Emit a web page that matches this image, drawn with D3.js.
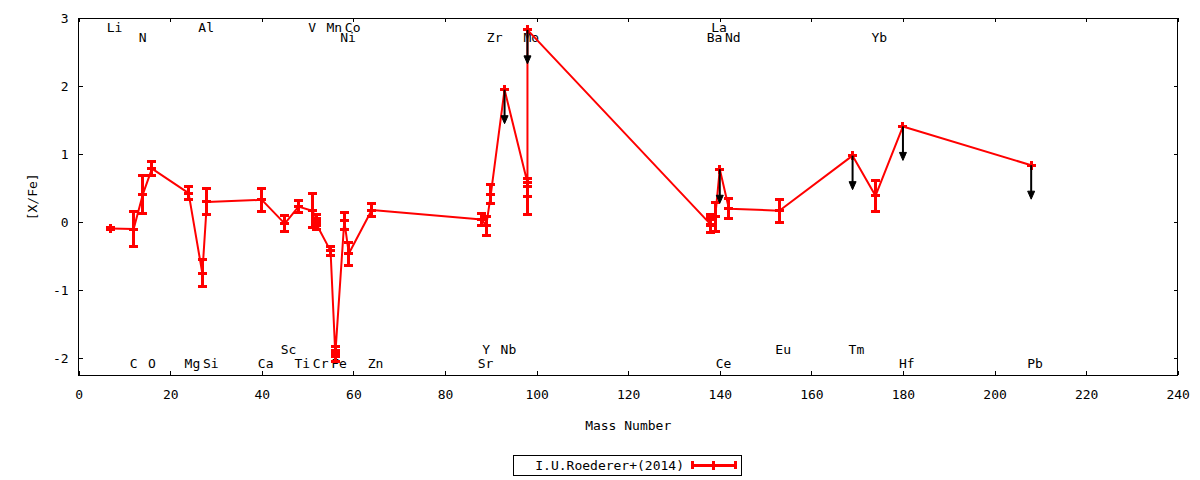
<!DOCTYPE html>
<html>
<head>
<meta charset="utf-8">
<script src="https://cdn.jsdelivr.net/npm/d3@7"></script>
<style>
  html, body { margin: 0; padding: 0; background: #fff; }
  svg { display: block; }
  text { font-family: "DejaVu Sans Mono", "Liberation Mono", monospace; font-size: 13px; fill: #000; }
</style>
</head>
<body>
<svg id="chart" width="1200" height="480"></svg>
<script>
// ---- data ----
const elements   = ["Li","C","N","O","Mg","Al","Si","Ca","Sc","Ti","V","Cr","Cr","Mn","Fe","Fe","Ni","Co","Zn","Sr","Y","Zr","Nb","Mo","Mo","Mo","Ba","Ba","La","Ce","Nd","Eu","Tm","Yb","Hf","Pb"];
const massNumber = [7,12,14,16,24,27,28,40,45,48,51,52,52,55,56,56,58,59,64,88,89,90,93,98,98,98,138,138,139,140,142,153,169,174,180,208];
const xfe        = [-0.09,-0.10,0.41,0.79,0.43,-0.75,0.30,0.33,-0.02,0.23,0.17,0.05,-0.04,-0.42,-1.89,-1.98,0.02,-0.46,0.18,0.04,-0.05,0.41,1.95,0.58,0.38,2.83,-0.03,0.04,0.08,0.78,0.20,0.17,0.98,0.39,1.41,0.84];
const xfeErr     = [0.02,0.26,0.28,0.105,0.09,0.20,0.19,0.165,0.12,0.09,0.25,0.06,0.07,0.07,0.06,0.06,0.13,0.17,0.09,0.09,0.14,0.14,0,0.06,0.27,0,0.12,0.08,0.21,0,0.15,0.17,0,0.23,0,0];
const upperLimit = [0,0,0,0,0,0,0,0,0,0,0,0,0,0,0,0,0,0,0,0,0,0,1,0,0,1,0,0,0,1,0,0,1,0,1,1];
const limitArrow = 0.5;

const labelText = ["Li","Al","V","Mn","Co","La",
                   "N","Ni","Zr","Mo","Ba","Nd","Yb",
                   "C","O","Mg","Si","Ca","Ti","Cr","Fe","Zn","Sr","Ce","Hf","Pb",
                   "Sc","Y","Nb","Eu","Tm"];
const labelMass = [7,27,51,55,59,139,
                   14,58,90,98,138,142,174,
                   12,16,24,28,40,48,52,56,64,88,140,180,208,
                   45,89,93,153,169];
const labelRow  = [0,0,0,0,0,0,
                   1,1,1,1,1,1,1,
                   3,3,3,3,3,3,3,3,3,3,3,3,3,
                   2,2,2,2,2];

const xTicks = [0,20,40,60,80,100,120,140,160,180,200,220,240];
const yTicks = [-2,-1,0,1,2,3];
const xDomain = [0,240];
const yDomain = [-2.25,3];
const seriesName = "I.U.Roederer+(2014)";
const xTitle = "Mass Number";
const yTitle = "[X/Fe]";

// ---- layout ----
const L = 78.7, R = 1177.7, T = 18.3, B = 375.3;
const red = "#ff0000";
const svg = d3.select("#chart");
const x = d3.scaleLinear().domain(xDomain).range([L, R]);
const y = d3.scaleLinear().domain(yDomain).range([B, T]);

const pts = massNumber.map((m, i) => ({m, v: xfe[i], e: xfeErr[i], up: upperLimit[i], el: elements[i]}));

// axes
const gx = svg.append("g").attr("transform", `translate(0,${B})`)
  .call(d3.axisBottom(x).tickValues(xTicks).tickSize(-4).tickSizeOuter(0).tickPadding(14));
const gxt = svg.append("g").attr("transform", `translate(0,${T})`)
  .call(d3.axisTop(x).tickValues(xTicks).tickSize(-4).tickSizeOuter(0).tickFormat(""));
const gy = svg.append("g").attr("transform", `translate(${L},0)`)
  .call(d3.axisLeft(y).tickValues(yTicks).tickSize(-4).tickSizeOuter(0).tickPadding(10));
const gyr = svg.append("g").attr("transform", `translate(${R},0)`)
  .call(d3.axisRight(y).tickValues(yTicks).tickSize(-4).tickSizeOuter(0).tickFormat(""));
[gx, gxt, gy, gyr].forEach(g => {
  g.select(".domain").remove();
  g.selectAll("line").attr("stroke", "#000").attr("stroke-width", 1).attr("shape-rendering", "crispEdges");
  g.selectAll("text").attr("font-family", "DejaVu Sans Mono").attr("font-size", 13).attr("fill", "#000");
});
gy.selectAll("text").text(d => d < 0 ? "-" + Math.abs(d) : d);

svg.append("rect").attr("x", L).attr("y", T).attr("width", R - L).attr("height", B - T)
  .attr("fill", "none").attr("stroke", "#000").attr("stroke-width", 1).attr("shape-rendering", "crispEdges");

// titles
svg.append("text").attr("x", (L + R) / 2).attr("y", 425).attr("dy", "0.35em")
  .attr("text-anchor", "middle").text(xTitle);
svg.append("text").attr("transform", `translate(32,${(T + B) / 2}) rotate(-90)`).attr("dy", "0.35em")
  .attr("text-anchor", "middle").text(yTitle);

// element labels
const rowY = [y(3) + 9.2, y(3) + 19.2, y(yDomain[0]) - 25.8, y(yDomain[0]) - 12];
svg.append("g").selectAll("text").data(labelText).join("text")
  .attr("x", (d, i) => x(labelMass[i]) - 4)
  .attr("y", (d, i) => rowY[labelRow[i]])
  .attr("dy", "0.35em")
  .attr("text-anchor", "start")
  .text(d => d);

// series line
svg.append("path").datum(pts)
  .attr("fill", "none").attr("stroke", red).attr("stroke-width", 2).attr("stroke-linejoin", "round")
  .attr("d", d3.line().x(d => x(d.m)).y(d => y(d.v)));

// error bars, caps, markers
const gE = svg.append("g").attr("stroke", red).attr("stroke-width", 3).attr("shape-rendering", "crispEdges");
const cap = 4.5;
pts.forEach(d => {
  const cx = x(d.m), cy = y(d.v), y1 = y(d.v + d.e), y2 = y(d.v - d.e);
  gE.append("line").attr("x1", cx).attr("x2", cx).attr("y1", y1 - 1.5).attr("y2", y2 + 1.5);
  gE.append("line").attr("x1", cx - cap).attr("x2", cx + cap).attr("y1", y1).attr("y2", y1);
  gE.append("line").attr("x1", cx - cap).attr("x2", cx + cap).attr("y1", y2).attr("y2", y2);
  // "+" marker
  gE.append("line").attr("x1", cx - cap).attr("x2", cx + cap).attr("y1", cy).attr("y2", cy);
  gE.append("line").attr("x1", cx).attr("x2", cx).attr("y1", cy - cap).attr("y2", cy + cap);
});

// upper-limit arrows
const gA = svg.append("g");
pts.filter(d => d.up).forEach(d => {
  const cx = x(d.m), y0 = y(d.v), y1 = y(d.v - limitArrow);
  gA.append("line").attr("x1", cx).attr("x2", cx).attr("y1", y0).attr("y2", y1 - 6)
    .attr("stroke", "#000").attr("stroke-width", 2);
  gA.append("path").attr("d", `M${cx - 3.5},${y1 - 8} L${cx + 3.5},${y1 - 8} L${cx},${y1} Z`)
    .attr("fill", "#000").attr("stroke", "#000").attr("stroke-width", 1);
});

// legend
const lg = svg.append("g");
lg.append("rect").attr("x", 513.5).attr("y", 455.5).attr("width", 228).attr("height", 19.5)
  .attr("fill", "#fff").attr("stroke", "#000").attr("stroke-width", 1).attr("shape-rendering", "crispEdges");
lg.append("text").attr("x", 684).attr("y", 465).attr("dy", "0.35em").attr("text-anchor", "end").text(seriesName);
const lx1 = 692, lx2 = 735, ly = 465;
const lgl = lg.append("g").attr("stroke", red).attr("stroke-width", 3).attr("shape-rendering", "crispEdges");
lgl.append("line").attr("x1", lx1).attr("x2", lx2).attr("y1", ly).attr("y2", ly);
[lx1, lx2].forEach(xx => lgl.append("line").attr("x1", xx).attr("x2", xx).attr("y1", ly - 4).attr("y2", ly + 4));
lgl.append("line").attr("x1", (lx1 + lx2) / 2).attr("x2", (lx1 + lx2) / 2).attr("y1", ly - 4.5).attr("y2", ly + 4.5);
</script>
</body>
</html>
